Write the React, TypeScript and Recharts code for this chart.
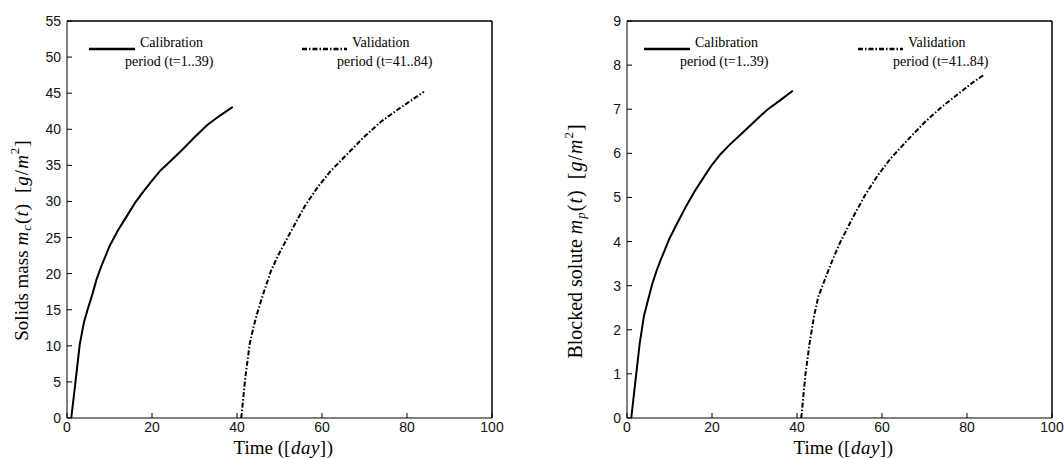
import React from 'react';
import { LineChart, Line, XAxis, YAxis, ReferenceLine } from 'recharts';

// ---- data ----
const calTime = [1, 2, 3, 4, 5, 6, 7, 8, 10, 12, 14, 16, 18, 20, 22, 24, 27, 30, 33, 36, 39];
const valTime = [41, 42, 43, 44, 45, 46, 48, 50, 53, 56, 59, 62, 66, 70, 74, 78, 81, 84];

const solidsCal = [0, 5.0, 10.2, 13.3, 15.3, 17.2, 19.3, 20.9, 23.8, 26.0, 27.9, 29.8, 31.4, 32.9, 34.3, 35.4, 37.1, 38.9, 40.6, 41.9, 43.1];
const solidsVal = [0, 5.8, 10.3, 12.9, 15.0, 16.9, 20.4, 22.9, 26.2, 29.4, 32.0, 34.2, 36.6, 39.0, 41.1, 42.8, 44.0, 45.2];

const soluteCal = [0, 0.85, 1.7, 2.32, 2.69, 3.06, 3.35, 3.6, 4.07, 4.45, 4.82, 5.15, 5.45, 5.74, 5.98, 6.18, 6.45, 6.72, 6.99, 7.2, 7.42];
const soluteVal = [0, 1.0, 1.72, 2.3, 2.75, 3.0, 3.5, 3.95, 4.52, 5.05, 5.5, 5.88, 6.3, 6.7, 7.05, 7.35, 7.58, 7.78];

const xTicks = [0, 20, 40, 60, 80, 100];
const solidsTicks = [0, 5, 10, 15, 20, 25, 30, 35, 40, 45, 50, 55];
const soluteTicks = [0, 1, 2, 3, 4, 5, 6, 7, 8, 9];

const calLegend = ['Calibration', 'period (t=1..39)'];
const valLegend = ['Validation', 'period (t=41..84)'];

const SERIF = '"Liberation Serif", "Times New Roman", serif';
const SANS = '"Liberation Sans", Arial, Helvetica, sans-serif';
const DASH = '5 2 1.5 2';

function buildRows(cal: number[], val: number[]) {
  return [
    ...calTime.map((t, i) => ({ t, cal: cal[i], val: null as number | null })),
    ...valTime.map((t, i) => ({ t, cal: null as number | null, val: val[i] })),
  ];
}

type LabelPart = { text: string; italic?: boolean; shift?: 'sub' | 'sup'; gap?: number };

const solidsLabel: LabelPart[] = [
  { text: 'Solids mass' },
  { text: 'm', italic: true, gap: 5 },
  { text: 'c', italic: true, shift: 'sub' },
  { text: '(' },
  { text: 't', italic: true },
  { text: ')' },
  { text: '[', gap: 10 },
  { text: 'g', italic: true },
  { text: '/' },
  { text: 'm', italic: true },
  { text: '2', shift: 'sup' },
  { text: ']' },
];

const soluteLabel: LabelPart[] = [
  { text: 'Blocked solute' },
  { text: 'm', italic: true, gap: 5 },
  { text: 'p', italic: true, shift: 'sub' },
  { text: '(' },
  { text: 't', italic: true },
  { text: ')' },
  { text: '[', gap: 10 },
  { text: 'g', italic: true },
  { text: '/' },
  { text: 'm', italic: true },
  { text: '2', shift: 'sup' },
  { text: ']' },
];

const timeLabel: LabelPart[] = [
  { text: 'Time (' },
  { text: '[' },
  { text: 'day', italic: true },
  { text: ']' },
  { text: ')' },
];

function renderParts(parts: LabelPart[], mathSpacing: number) {
  let prevShift = 0;
  return parts.map((p, i) => {
    const target = p.shift === 'sub' ? 5 : p.shift === 'sup' ? -7 : 0;
    const dy = target - prevShift;
    prevShift = target;
    const isMath = i > 0;
    return (
      <tspan
        key={i}
        dy={dy || undefined}
        dx={p.gap || undefined}
        fontSize={p.shift ? 13 : undefined}
        fontStyle={p.italic ? 'italic' : 'normal'}
        letterSpacing={isMath ? mathSpacing : undefined}
      >
        {p.text}
      </tspan>
    );
  });
}

type PanelProps = {
  rows: { t: number; cal: number | null; val: number | null }[];
  yMax: number;
  yTicks: number[];
  yLabel: LabelPart[];
  yLabelX: number;
  yLabelCy: number;
  yLabelSize: number;
  calLegendX: number;
  valLegendX: number;
  left: number;
};

function Panel({ rows, yMax, yTicks, yLabel, yLabelX, yLabelCy, yLabelSize, calLegendX, valLegendX, left }: PanelProps) {
  const W = 530;
  const H = 459;
  const tickStyle = { fill: '#111', fontSize: 14, fontFamily: SANS };
  return (
    <div style={{ position: 'absolute', left, top: 0, width: W, height: H }}>
      <LineChart width={W} height={H} data={rows} margin={{ top: 21, right: 38, bottom: 0, left: 0 }}>
        <XAxis
          xAxisId="b"
          dataKey="t"
          type="number"
          domain={[0, 100]}
          ticks={xTicks}
          allowDataOverflow
          height={41}
          tickSize={-5}
          tickMargin={9}
          stroke="#000"
          tick={tickStyle}
          label={{
            content: (props: any) => {
              const vb = props.viewBox || { x: 67, y: 418, width: 425, height: 41 };
              return (
                <text x={vb.x + vb.width / 2 + 4} y={vb.y + 36} textAnchor="middle" fontFamily={SERIF} fontSize={19} fill="#000">
                  {renderParts(timeLabel, 0.5)}
                </text>
              );
            },
          }}
        />
        <XAxis
          xAxisId="top"
          orientation="top"
          dataKey="t"
          type="number"
          domain={[0, 100]}
          ticks={xTicks}
          mirror
          height={1}
          tickSize={5}
          stroke="#000"
          tick={false}
        />
        <YAxis
          yAxisId="l"
          type="number"
          domain={[0, yMax]}
          ticks={yTicks}
          allowDataOverflow
          width={67}
          tickSize={-5}
          tickMargin={11}
          stroke="#000"
          tick={tickStyle}
          label={{
            content: () => (
              <text
                x={yLabelX}
                y={yLabelCy}
                transform={`rotate(-90 ${yLabelX} ${yLabelCy})`}
                textAnchor="middle"
                dominantBaseline="central"
                fontFamily={SERIF}
                fontSize={yLabelSize}
                fill="#000"
              >
                {renderParts(yLabel, 1)}
              </text>
            ),
          }}
        />
        <YAxis
          yAxisId="r"
          orientation="right"
          type="number"
          domain={[0, yMax]}
          ticks={yTicks}
          mirror
          width={1}
          tickSize={5}
          stroke="#000"
          tick={false}
        />
        <ReferenceLine xAxisId="b" yAxisId="l" y={yMax} stroke="#000" />
        <ReferenceLine xAxisId="b" yAxisId="l" x={100} stroke="#000" />
        <Line
          xAxisId="b"
          yAxisId="l"
          dataKey="cal"
          type="linear"
          stroke="#000"
          strokeWidth={2}
          dot={false}
          isAnimationActive={false}
        />
        <Line
          xAxisId="top"
          yAxisId="r"
          dataKey="val"
          type="linear"
          stroke="#000"
          strokeWidth={2}
          strokeDasharray={DASH}
          dot={false}
          isAnimationActive={false}
        />
      </LineChart>
      <svg
        width={W}
        height={H}
        style={{ position: 'absolute', left: 0, top: 0, pointerEvents: 'none' }}
      >
        <line x1={calLegendX} x2={calLegendX + 46} y1={49} y2={49} stroke="#000" strokeWidth={2.5} />
        <text x={calLegendX + 51} y={47} fontFamily={SERIF} fontSize={14} fill="#000">{calLegend[0]}</text>
        <text x={calLegendX + 36} y={66} fontFamily={SERIF} fontSize={14} fill="#000">{calLegend[1]}</text>

        <line x1={valLegendX} x2={valLegendX + 45} y1={49} y2={49} stroke="#000" strokeWidth={2.5} strokeDasharray={DASH} />
        <text x={valLegendX + 50} y={47} fontFamily={SERIF} fontSize={14} fill="#000">{valLegend[0]}</text>
        <text x={valLegendX + 35} y={66} fontFamily={SERIF} fontSize={14} fill="#000">{valLegend[1]}</text>
      </svg>
    </div>
  );
}

export default function App() {
  return (
    <div style={{ position: 'absolute', left: 0, top: 0, width: 1064, height: 459, background: '#fff' }}>
      <Panel
        rows={buildRows(solidsCal, solidsVal)}
        yMax={55}
        yTicks={solidsTicks}
        yLabel={solidsLabel}
        yLabelX={21}
        yLabelCy={240}
        yLabelSize={19}
        calLegendX={89}
        valLegendX={302}
        left={0}
      />
      <Panel
        rows={buildRows(soluteCal, soluteVal)}
        yMax={9}
        yTicks={soluteTicks}
        yLabel={soluteLabel}
        yLabelX={15}
        yLabelCy={241}
        yLabelSize={20}
        calLegendX={84}
        valLegendX={298}
        left={560}
      />
    </div>
  );
}
